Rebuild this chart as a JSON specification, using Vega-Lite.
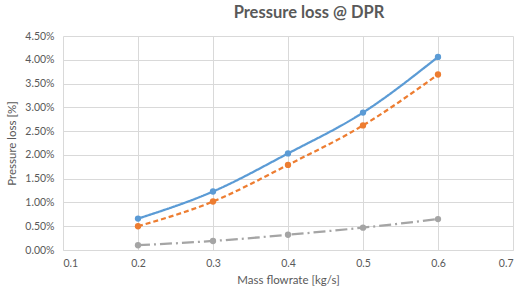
{
  "$schema": "https://vega.github.io/schema/vega-lite/v6.json",
  "autosize": "none",
  "width": 450,
  "height": 214,
  "padding": {"left": 63, "top": 36, "right": 8, "bottom": 44},
  "background": "white",
  "title": {
    "text": "Pressure loss @ DPR",
    "font": "Lato",
    "fontSize": 16.5,
    "fontWeight": "bold",
    "color": "#595959",
    "anchor": "middle",
    "dx": 21,
    "offset": 10
  },
  "config": {
    "view": {"stroke": null},
    "font": "Lato"
  },
  "data": {
    "values": [
      {"x": 0.2, "series": "A", "y": 0.0066},
      {"x": 0.3, "series": "A", "y": 0.0123},
      {"x": 0.4, "series": "A", "y": 0.0203},
      {"x": 0.5, "series": "A", "y": 0.0289},
      {"x": 0.6, "series": "A", "y": 0.0406},
      {"x": 0.2, "series": "B", "y": 0.0050},
      {"x": 0.3, "series": "B", "y": 0.0102},
      {"x": 0.4, "series": "B", "y": 0.0179},
      {"x": 0.5, "series": "B", "y": 0.0262},
      {"x": 0.6, "series": "B", "y": 0.0369},
      {"x": 0.2, "series": "C", "y": 0.0010},
      {"x": 0.3, "series": "C", "y": 0.0019},
      {"x": 0.4, "series": "C", "y": 0.0032},
      {"x": 0.5, "series": "C", "y": 0.0047},
      {"x": 0.6, "series": "C", "y": 0.0065}
    ]
  },
  "encoding": {
    "x": {
      "field": "x",
      "type": "quantitative",
      "scale": {"domain": [0.1, 0.7], "nice": false, "zero": false},
      "axis": {
        "title": "Mass flowrate [kg/s]",
        "values": [0.1, 0.2, 0.3, 0.4, 0.5, 0.6, 0.7],
        "format": ".1f",
        "grid": true,
        "gridColor": "#D9D9D9",
        "domainColor": "#D9D9D9",
        "ticks": false,
        "labelColor": "#595959",
        "labelFontSize": 10.5,
        "labelPadding": 8,
        "titleColor": "#595959",
        "titleFontSize": 11.5,
        "titleFontWeight": "normal",
        "titlePadding": 6
      }
    },
    "y": {
      "field": "y",
      "type": "quantitative",
      "scale": {"domain": [0, 0.045], "nice": false},
      "axis": {
        "title": "Pressure loss [%]",
        "values": [0, 0.005, 0.01, 0.015, 0.02, 0.025, 0.03, 0.035, 0.04, 0.045],
        "format": ".2%",
        "grid": true,
        "gridColor": "#D9D9D9",
        "domain": false,
        "ticks": false,
        "labelColor": "#595959",
        "labelFontSize": 10.5,
        "labelPadding": 9,
        "titleColor": "#595959",
        "titleFontSize": 11.5,
        "titleFontWeight": "normal",
        "titlePadding": 7
      }
    },
    "color": {
      "field": "series",
      "type": "nominal",
      "scale": {"domain": ["A", "B", "C"], "range": ["#5B9BD5", "#ED7D31", "#A5A5A5"]},
      "legend": null
    }
  },
  "layer": [
    {
      "mark": {"type": "line", "interpolate": "monotone", "strokeWidth": 2.25},
      "encoding": {
        "strokeDash": {
          "field": "series",
          "type": "nominal",
          "scale": {"domain": ["A", "B", "C"], "range": [[1, 0], [5, 3], [12, 4, 2, 4]]},
          "legend": null
        }
      }
    },
    {
      "mark": {"type": "point", "filled": true, "opacity": 1, "size": 40}
    }
  ]
}
